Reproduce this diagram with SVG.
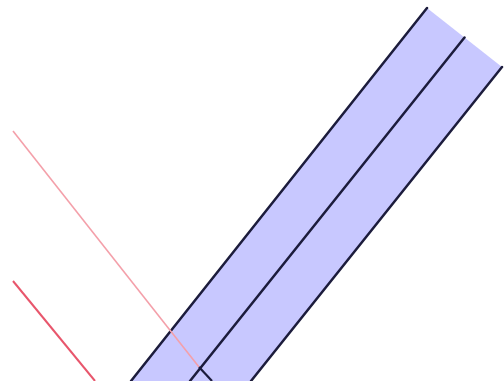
<svg xmlns="http://www.w3.org/2000/svg" width="504" height="381" viewBox="0 0 504 381">
  <style>
    .edge { stroke: #1c1c3c; stroke-width: 2.5; stroke-linecap: round; fill: none; }
    .band { fill: #c8c8ff; stroke: none; }
    .ray1 { stroke: #f4a0aa; stroke-width: 1.6; fill: none; }
    .ray2 { stroke: #e8566c; stroke-width: 2; fill: none; }
  </style>
  <rect width="504" height="381" fill="#ffffff"/>
  <g id="band">
    <polygon class="band" points="427,8 502,67 251,381 131,381"/>
    <line class="edge" x1="427" y1="8" x2="131" y2="381"/>
    <line class="edge" x1="464.5" y1="37.5" x2="190" y2="381"/>
    <line class="edge" x1="502" y1="67" x2="251" y2="381"/>
  </g>
  <g id="rays">
    <line class="ray1" x1="13" y1="131" x2="199" y2="367"/>
    <line x1="199" y1="367" x2="212" y2="381" stroke="#1c1c3c" stroke-width="2.2"/>
    <line class="ray2" x1="13" y1="281" x2="95" y2="381"/>
  </g>
</svg>
